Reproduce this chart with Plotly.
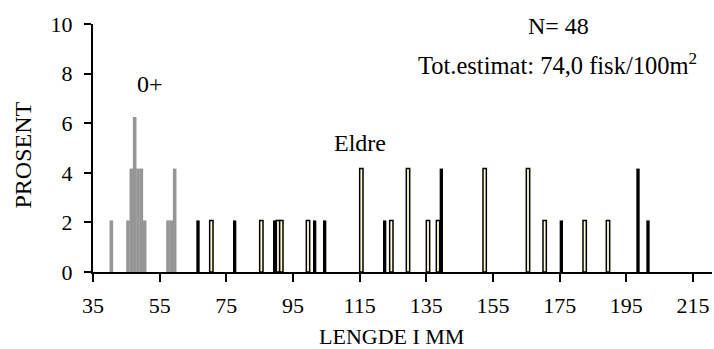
import plotly.graph_objects as go

# ---- data ----
N_FISH = 48
gray_len = [40, 45, 46, 47, 48, 49, 50, 57, 58, 59]
gray_pct = [2.08, 2.08, 4.17, 6.25, 4.17, 4.17, 2.08, 2.08, 2.08, 4.17]

black_len = [66, 77, 89, 101, 104, 122, 139, 175, 198, 201]
black_pct = [2.08, 2.08, 2.08, 2.08, 2.08, 2.08, 4.17, 2.08, 4.17, 2.08]

yellow_len = [70, 85, 90, 91, 99, 115, 124, 129, 135, 138, 152, 165, 170, 182, 189]
yellow_pct = [2.08, 2.08, 2.08, 2.08, 2.08, 4.17, 2.08, 4.17, 2.08, 2.08,
              4.17, 4.17, 2.08, 2.08, 2.08]

x_ticks = [35, 55, 75, 95, 115, 135, 155, 175, 195, 215]
y_ticks = [0, 2, 4, 6, 8, 10]

FONT = "Liberation Serif, Times New Roman, serif"

fig = go.Figure()
fig.add_trace(go.Bar(x=[v + 0.5 for v in gray_len], y=gray_pct, width=1.08,
                     marker=dict(color="#969696", line=dict(width=0)),
                     name="0+"))
fig.add_trace(go.Bar(x=[v + 0.5 for v in black_len], y=black_pct, width=1.0,
                     marker=dict(color="#000000", line=dict(width=0)),
                     name="Eldre a"))
fig.add_trace(go.Bar(x=[v + 0.5 for v in yellow_len], y=yellow_pct, width=1.0,
                     marker=dict(color="#FFFFCC", line=dict(width=1.5, color="#000000")),
                     name="Eldre b"))

fig.update_layout(
    template="none",
    width=714, height=349,
    margin=dict(l=93, r=2, t=24, b=77, pad=0, autoexpand=False),
    barmode="overlay",
    showlegend=False,
    plot_bgcolor="white", paper_bgcolor="white",
    font=dict(family=FONT, size=22, color="black"),
    xaxis=dict(range=[35, 220.7], tickmode="array", tickvals=x_ticks,
               ticktext=[str(v) for v in x_ticks], automargin=False,
               ticks="outside", ticklen=8, tickwidth=2, tickcolor="black",
               ticklabelstandoff=5,
               showline=True, linewidth=2, linecolor="black",
               showgrid=False, zeroline=False,
               tickfont=dict(family=FONT, size=22, color="black")),
    yaxis=dict(range=[0, 10], tickmode="array", tickvals=y_ticks, automargin=False,
               ticks="outside", ticklen=7, tickwidth=2, tickcolor="black",
               ticklabelstandoff=7,
               showline=True, linewidth=2, linecolor="black",
               showgrid=False, zeroline=False,
               tickfont=dict(family=FONT, size=22, color="black")),
)

annots = [
    dict(text="0+", x=52.2, y=7.6, xref="x", yref="y", size=24),
    dict(text="Eldre", x=115.0, y=5.22, xref="x", yref="y", size=24),
    dict(text="N= " + str(N_FISH), x=174.6, y=9.92, xref="x", yref="y", size=24),
    dict(text="Tot.estimat: 74,0 fisk/100m<sup>2</sup>", x=174.3, y=8.4,
         xref="x", yref="y", size=24.5),
    dict(text="LENGDE I MM", x=0.483, y=-0.26, xref="paper", yref="paper", size=22),
    dict(text="PROSENT", x=-0.1125, y=0.471, xref="paper", yref="paper", size=24,
         textangle=-90),
]
for a in annots:
    size = a.pop("size")
    fig.add_annotation(showarrow=False, xanchor="center", yanchor="middle",
                       font=dict(family=FONT, size=size, color="black"), **a)

fig.write_html(
    "out.html",
    config={"displayModeBar": False},
    post_script="document.body.style.margin='0px';document.body.style.padding='0px';",
)
